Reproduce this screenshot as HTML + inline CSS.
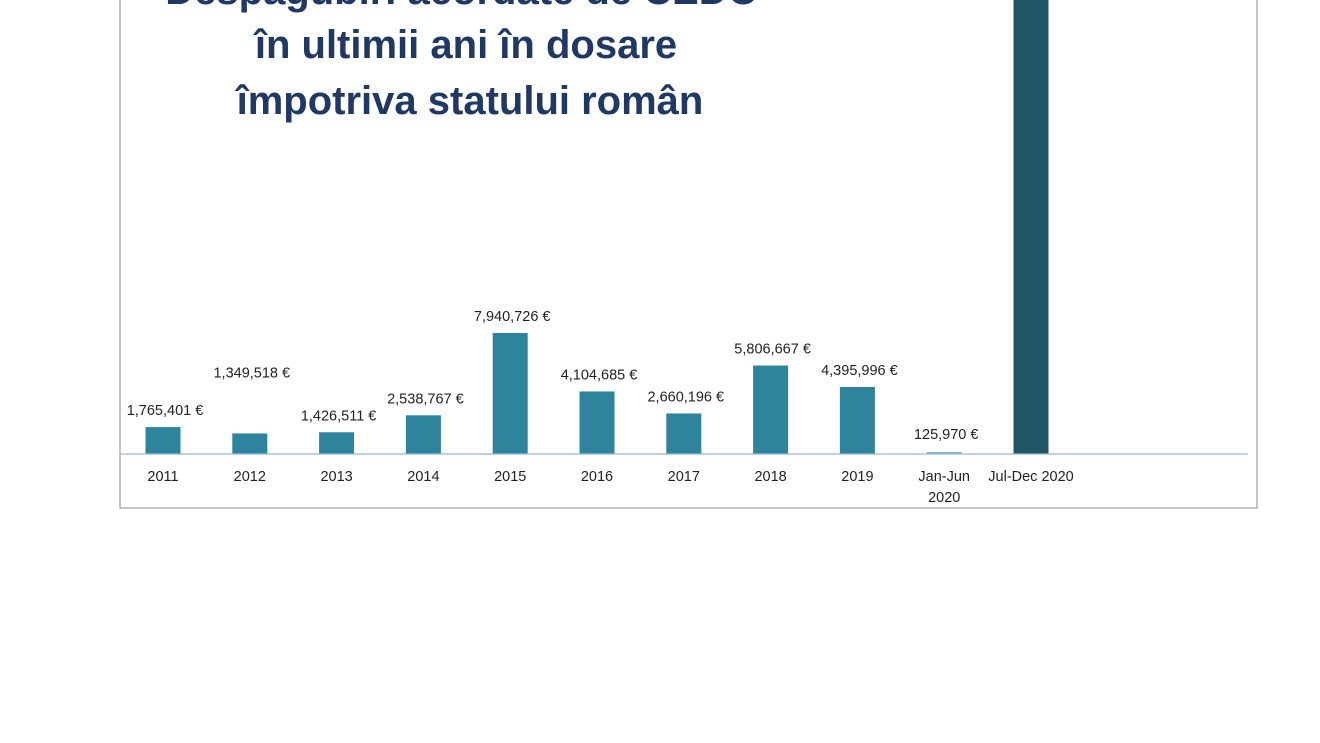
<!DOCTYPE html>
<html><head><meta charset="utf-8"><style>
body{margin:0;width:1320px;height:743px;background:#fff;overflow:hidden;font-family:"Liberation Sans",sans-serif}
svg{display:block}
</style></head><body>
<svg width="1320" height="743">
<rect x="120" y="-5" width="1137" height="513" fill="#fff" stroke="#a6a6a6" stroke-width="1.3"/>
<g font-family="Liberation Sans, sans-serif" font-weight="bold" fill="#1f3864" font-size="40" text-anchor="middle">
<text x="462" y="4">Despăgubiri acordate de CEDO</text>
<text x="466" y="58">în ultimii ani în dosare</text>
<text x="470" y="114">împotriva statului român</text>
</g>
<g id="bars"></g>
<line x1="120" y1="454" x2="1248" y2="454" stroke="#9ab4d8" stroke-width="1.3"/>
<g id="labels"></g>
</svg>
<script>
const categories=["2011","2012","2013","2014","2015","2016","2017","2018","2019","Jan-Jun|2020","Jul-Dec 2020"];
const values=[1765401,1349518,1426511,2538767,7940726,4104685,2660196,5806667,4395996,125970,32000000];
const valueLabels=["1,765,401 €","1,349,518 €","1,426,511 €","2,538,767 €","7,940,726 €","4,104,685 €","2,660,196 €","5,806,667 €","4,395,996 €","125,970 €",""];
const labelLift=[0,44,0,0,0,0,0,0,0,0,0];
const ns="http://www.w3.org/2000/svg";
const base=454, pxPer=121/7940726, x0=163, step=86.8, bw=35;
const xs=i=>x0+i*step, ys=v=>base-v*pxPer;
const bars=document.getElementById('bars'), labs=document.getElementById('labels');
categories.forEach((c,i)=>{
  const r=document.createElementNS(ns,'rect');
  const top=ys(values[i]);
  r.setAttribute('x',xs(i)-bw/2);r.setAttribute('y',top);r.setAttribute('width',bw);r.setAttribute('height',base-top);
  r.setAttribute('fill',i===10?'#1f5767':'#2e849c');
  if(i===9){r.setAttribute('fill','#7aa7d0');r.setAttribute('height',Math.max(1.5,base-top));}
  
  
  bars.appendChild(r);
  if(valueLabels[i]){
    const t=document.createElementNS(ns,'text');
    t.setAttribute('x',xs(i)+2);t.setAttribute('y',Math.min(top,base-3)-12-labelLift[i]);
    t.setAttribute('text-anchor','middle');t.setAttribute('font-size','14.5');t.setAttribute('fill','#222');
    t.textContent=valueLabels[i];
    
    
    labs.appendChild(t);
  }
  c.split('|').forEach((line,k)=>{
    const t=document.createElementNS(ns,'text');
    t.setAttribute('x',xs(i));t.setAttribute('y',481+k*21);
    t.setAttribute('text-anchor','middle');t.setAttribute('font-size','14.5');t.setAttribute('fill','#222');
    t.textContent=line;
    
    
    labs.appendChild(t);
  });
});
</script>
</body></html>
